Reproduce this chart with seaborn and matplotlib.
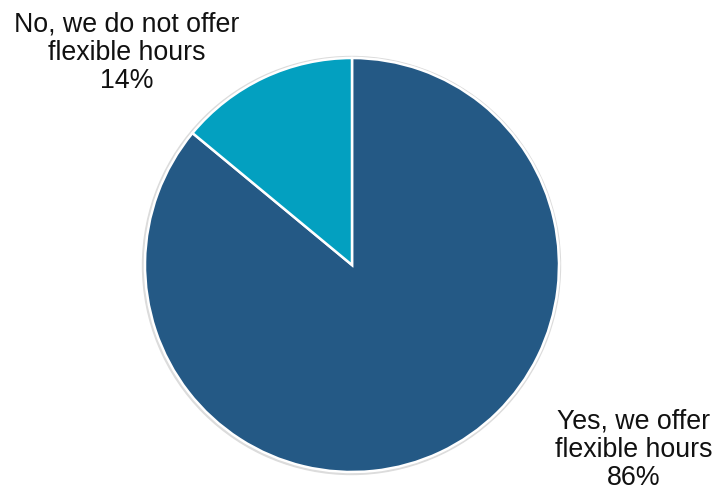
import matplotlib
matplotlib.use("Agg")
import matplotlib.pyplot as plt
import seaborn as sns
from matplotlib.patches import Circle

sns.set_theme(style="white")
plt.rcParams['font.family'] = ['Liberation Sans', 'DejaVu Sans']

categories = ["Yes, we offer\nflexible hours", "No, we do not offer\nflexible hours"]
shares = [86, 14]
colors = ["#245985", "#03A0C0"]

fig = plt.figure(figsize=(7.15, 4.93), dpi=100)
ax = fig.add_axes([0, 0, 1, 1])

cx, cy, r = 352, 228, 207

# soft rim behind the pie
ax.add_patch(Circle((cx - 0.5, cy - 0.5), r + 2.0, color="#dcdcdc", zorder=0))

ax.pie(shares, colors=colors, startangle=90, counterclock=False,
       center=(cx, cy), radius=r, frame=True,
       wedgeprops=dict(edgecolor="white", linewidth=1.8))
ax.set_xlim(0, 715)
ax.set_ylim(0, 493)
ax.set_aspect("equal")
ax.axis("off")

label_pos = [(634, 43), (127, 440)]
for cat, val, (x, y) in zip(categories, shares, label_pos):
    ax.text(x, y, f"{cat}\n{val}%", ha="center", va="center",
            fontsize=19.3, color="#111111", linespacing=1.12)

fig.savefig("out.png", dpi=100)
